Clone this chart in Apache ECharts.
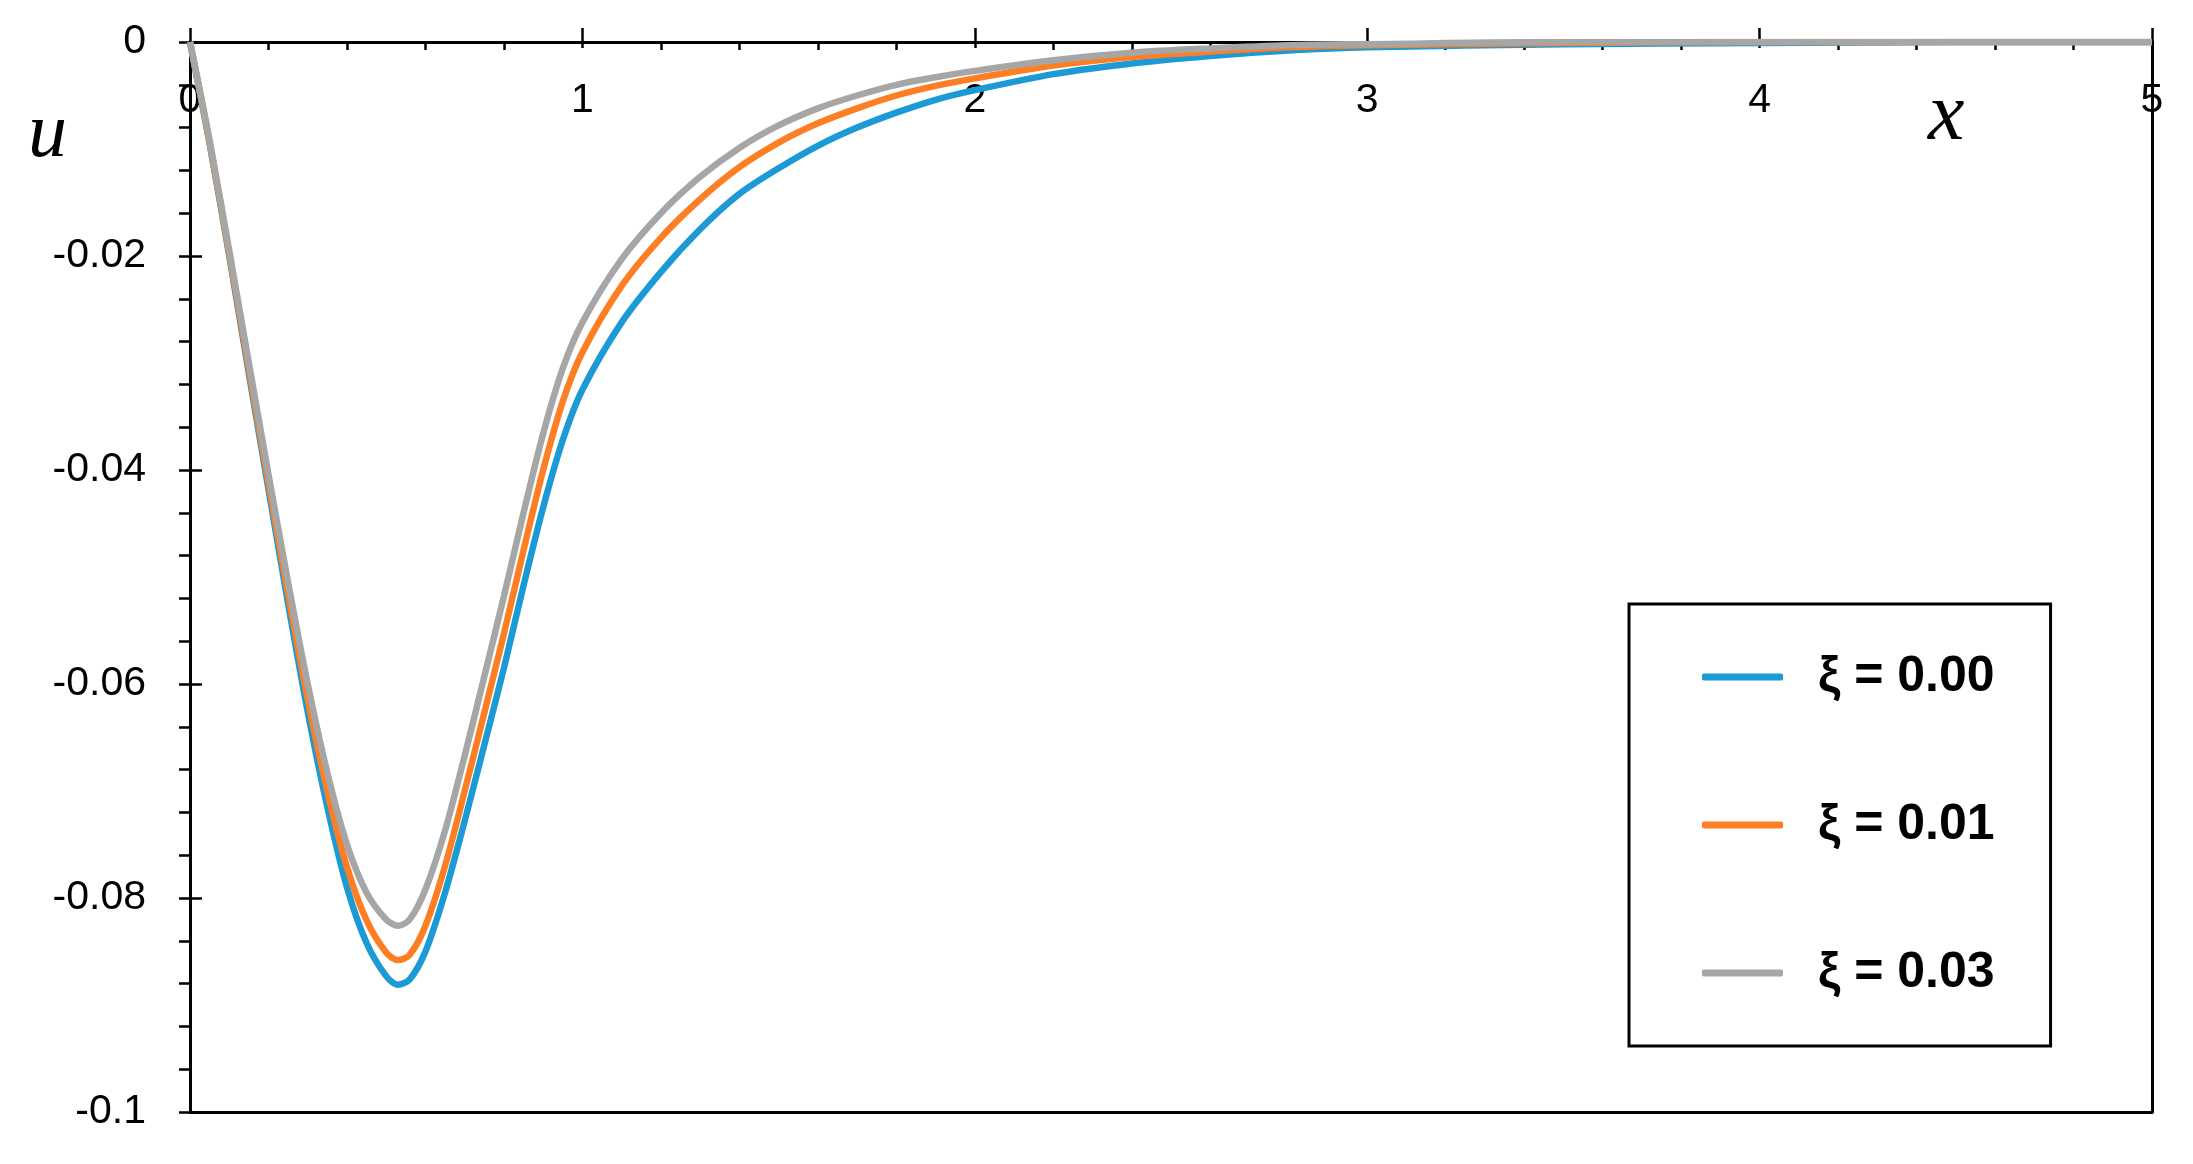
<!DOCTYPE html>
<html>
<head>
<meta charset="utf-8">
<title>u(x) for several xi</title>
<script src="https://cdn.jsdelivr.net/npm/echarts@6/dist/echarts.min.js"></script>
<style>
  html, body { margin: 0; padding: 0; background: #fff; }
  #chart { width: 2193px; height: 1164px; }
</style>
</head>
<body>
<div id="chart"></div>
<script>
var xValues = [0, 0.05, 0.1, 0.15, 0.2, 0.25, 0.3, 0.35, 0.4, 0.45, 0.5, 0.53, 0.56, 0.6, 0.65, 0.7, 0.75, 0.8, 0.85, 0.9, 0.95,
  1.0, 1.1, 1.2, 1.3, 1.4, 1.5, 1.6, 1.7, 1.8, 1.9, 2.0, 2.2, 2.4, 2.6, 2.8, 3.0, 3.5, 4.0, 4.5, 5.0]

// xi = 0.00
var u000 = [0, -0.0095, -0.0200, -0.0310, -0.0418, -0.0525, -0.0626, -0.0715, -0.0790, -0.0842, -0.0873, -0.0881, -0.0876, -0.0850, -0.0795, -0.0728, -0.0657, -0.0585, -0.0508, -0.0435, -0.0372,
  -0.0325, -0.0262, -0.0215, -0.0175, -0.0142, -0.0118, -0.0097, -0.0080, -0.0066, -0.0054, -0.0045, -0.0030, -0.0020, -0.0013, -0.0008, -0.0005, -0.0002, -0.0001, 0, 0]
// xi = 0.01
var u001 = [0, -0.0094, -0.0198, -0.0306, -0.0412, -0.0516, -0.0614, -0.0700, -0.0771, -0.0821, -0.0851, -0.0858, -0.0853, -0.0826, -0.0770, -0.0700, -0.0627, -0.0553, -0.0475, -0.0400, -0.0336,
  -0.0290, -0.0228, -0.0183, -0.0147, -0.0117, -0.0094, -0.0076, -0.0062, -0.0050, -0.0041, -0.0034, -0.0022, -0.0014, -0.0009, -0.0005, -0.0003, -0.0001, 0, 0, 0]
// xi = 0.03
var u003 = [0, -0.0092, -0.0195, -0.0300, -0.0404, -0.0505, -0.0600, -0.0683, -0.0750, -0.0795, -0.0820, -0.0826, -0.0820, -0.0792, -0.0737, -0.0667, -0.0593, -0.0518, -0.0440, -0.0366, -0.0305,
  -0.0262, -0.0203, -0.0160, -0.0126, -0.0099, -0.0078, -0.0062, -0.0050, -0.0040, -0.0033, -0.0027, -0.0017, -0.0010, -0.0006, -0.0003, -0.0002, 0, 0, 0, 0]

var seriesNames = ['ξ = 0.00', 'ξ = 0.01', 'ξ = 0.03']
var seriesColors = ['#1c9ad6', '#fd7e23', '#a6a6a6']

function pairs(ys) {
  return xValues.map(function (x, i) { return [x, ys[i]] })
}

var axisColor = '#000'
var tickFont = 'Liberation Sans, Arial, sans-serif'
var chart = echarts.init(document.getElementById('chart'))

chart.setOption({
  animation: false,
  backgroundColor: '#fff',
  grid: { left: 190, right: 41, top: 42, bottom: 52, containLabel: false },
  xAxis: [
    {
      // main axis along u = 0, ticks up, labels below
      type: 'value', position: 'top', min: 0, max: 5, interval: 1,
      axisLine: { show: true, onZero: false, lineStyle: { color: axisColor, width: 3 } },
      axisTick: { show: true, inside: false, length: 14, lineStyle: { color: axisColor, width: 2.5 } },
      axisLabel: { inside: true, margin: 38, color: '#000', fontSize: 41, fontFamily: tickFont },
      splitLine: { show: false },
    },
    {
      // inner half of the ticks + minor ticks
      type: 'value', position: 'top', min: 0, max: 5, interval: 1,
      axisLine: { show: false, onZero: false },
      axisTick: { show: true, inside: true, length: 6, lineStyle: { color: axisColor, width: 2.5 } },
      minorTick: { show: true, splitNumber: 5, length: 8, lineStyle: { color: axisColor, width: 2.5 } },
      axisLabel: { show: false },
      splitLine: { show: false },
    },
    {
      // bottom frame line
      type: 'value', position: 'bottom', min: 0, max: 5,
      axisLine: { show: true, onZero: false, lineStyle: { color: axisColor, width: 3 } },
      axisTick: { show: false },
      axisLabel: { show: false },
      splitLine: { show: false },
    },
  ],
  yAxis: [
    {
      type: 'value', position: 'left', min: -0.1, max: 0, interval: 0.02,
      axisLine: { show: true, onZero: false, lineStyle: { color: axisColor, width: 3 } },
      axisTick: { show: true, inside: false, length: 11, lineStyle: { color: axisColor, width: 2.5 } },
      minorTick: { show: true, splitNumber: 5, length: 11, lineStyle: { color: axisColor, width: 2.5 } },
      axisLabel: {
        margin: 44, color: '#000', fontSize: 41, fontFamily: tickFont,
        formatter: function (v) { return v === 0 ? '0' : String(Math.round(v * 100) / 100) },
      },
      splitLine: { show: false },
    },
    {
      type: 'value', position: 'left', min: -0.1, max: 0, interval: 0.02,
      axisLine: { show: false, onZero: false },
      axisTick: { show: true, inside: true, length: 12, lineStyle: { color: axisColor, width: 2.5 } },
      axisLabel: { show: false },
      splitLine: { show: false },
    },
    {
      // right frame line
      type: 'value', position: 'right', min: -0.1, max: 0,
      axisLine: { show: true, onZero: false, lineStyle: { color: axisColor, width: 3 } },
      axisTick: { show: false },
      axisLabel: { show: false },
      splitLine: { show: false },
    },
  ],
  legend: {
    orient: 'vertical',
    left: 1629,
    top: 604,
    padding: [48, 56, 48, 73],
    itemGap: 98,
    itemWidth: 81,
    itemHeight: 7,
    icon: 'roundRect',
    borderColor: '#000',
    borderWidth: 3,
    backgroundColor: '#fff',
    textStyle: { color: '#000', fontSize: 50, fontWeight: 'bold', fontFamily: 'Liberation Sans, Arial, sans-serif', padding: [0, 0, 0, 30] },
    data: seriesNames,
  },
  graphic: [
    { type: 'text', left: 28, top: 96, style: { text: 'u', fill: '#000', font: 'italic 78px "Liberation Serif", serif' } },
    { type: 'text', left: 1928, top: 76, style: { text: 'x', fill: '#000', font: 'italic 82px "Liberation Serif", serif' } },
  ],
  series: [u000, u001, u003].map(function (ys, i) {
    return {
      name: seriesNames[i],
      type: 'line',
      xAxisIndex: 0,
      yAxisIndex: 0,
      smooth: 0.3,
      symbol: 'none',
      data: pairs(ys),
      lineStyle: { color: seriesColors[i], width: 6.5 },
      itemStyle: { color: seriesColors[i] },
    }
  }),
})
</script>
</body>
</html>
